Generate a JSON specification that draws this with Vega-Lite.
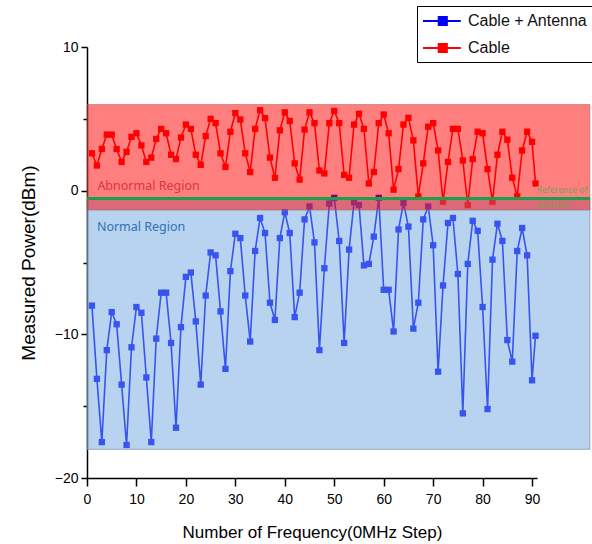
{
  "$schema": "https://vega.github.io/schema/vega-lite/v6.json",
  "width": 450,
  "height": 431,
  "autosize": {"type": "none"},
  "padding": {"left": 87, "top": 47, "right": 55, "bottom": 66},
  "background": "white",
  "config": {
    "view": {"stroke": null},
    "font": "Liberation Sans",
    "axis": {"grid": false, "domainColor": "#000", "domainWidth": 1.5, "tickColor": "#000", "tickWidth": 1.5, "labelColor": "#000", "labelFontSize": 14, "labelFont": "Liberation Sans", "titleFont": "Liberation Sans", "titleFontWeight": "normal", "titleColor": "#000"}
  },
  "datasets": {
    "series": [
      {"f":1,"power":-8.0,"series":"Cable + Antenna"},{"f":2,"power":-13.1,"series":"Cable + Antenna"},{"f":3,"power":-17.5,"series":"Cable + Antenna"},{"f":4,"power":-11.1,"series":"Cable + Antenna"},{"f":5,"power":-8.45,"series":"Cable + Antenna"},{"f":6,"power":-9.3,"series":"Cable + Antenna"},{"f":7,"power":-13.5,"series":"Cable + Antenna"},{"f":8,"power":-17.7,"series":"Cable + Antenna"},{"f":9,"power":-10.9,"series":"Cable + Antenna"},{"f":10,"power":-8.1,"series":"Cable + Antenna"},
      {"f":11,"power":-8.5,"series":"Cable + Antenna"},{"f":12,"power":-13.0,"series":"Cable + Antenna"},{"f":13,"power":-17.5,"series":"Cable + Antenna"},{"f":14,"power":-10.3,"series":"Cable + Antenna"},{"f":15,"power":-7.1,"series":"Cable + Antenna"},{"f":16,"power":-7.1,"series":"Cable + Antenna"},{"f":17,"power":-10.6,"series":"Cable + Antenna"},{"f":18,"power":-16.5,"series":"Cable + Antenna"},{"f":19,"power":-9.5,"series":"Cable + Antenna"},{"f":20,"power":-6.0,"series":"Cable + Antenna"},
      {"f":21,"power":-5.7,"series":"Cable + Antenna"},{"f":22,"power":-9.1,"series":"Cable + Antenna"},{"f":23,"power":-13.5,"series":"Cable + Antenna"},{"f":24,"power":-7.3,"series":"Cable + Antenna"},{"f":25,"power":-4.3,"series":"Cable + Antenna"},{"f":26,"power":-4.5,"series":"Cable + Antenna"},{"f":27,"power":-8.4,"series":"Cable + Antenna"},{"f":28,"power":-12.4,"series":"Cable + Antenna"},{"f":29,"power":-5.6,"series":"Cable + Antenna"},{"f":30,"power":-3.0,"series":"Cable + Antenna"},
      {"f":31,"power":-3.3,"series":"Cable + Antenna"},{"f":32,"power":-7.3,"series":"Cable + Antenna"},{"f":33,"power":-10.5,"series":"Cable + Antenna"},{"f":34,"power":-4.2,"series":"Cable + Antenna"},{"f":35,"power":-1.9,"series":"Cable + Antenna"},{"f":36,"power":-2.95,"series":"Cable + Antenna"},{"f":37,"power":-7.8,"series":"Cable + Antenna"},{"f":38,"power":-9.0,"series":"Cable + Antenna"},{"f":39,"power":-3.3,"series":"Cable + Antenna"},{"f":40,"power":-1.5,"series":"Cable + Antenna"},
      {"f":41,"power":-2.95,"series":"Cable + Antenna"},{"f":42,"power":-8.8,"series":"Cable + Antenna"},{"f":43,"power":-7.1,"series":"Cable + Antenna"},{"f":44,"power":-2.0,"series":"Cable + Antenna"},{"f":45,"power":-1.1,"series":"Cable + Antenna"},{"f":46,"power":-3.6,"series":"Cable + Antenna"},{"f":47,"power":-11.1,"series":"Cable + Antenna"},{"f":48,"power":-5.4,"series":"Cable + Antenna"},{"f":49,"power":-0.9,"series":"Cable + Antenna"},{"f":50,"power":-0.5,"series":"Cable + Antenna"},
      {"f":51,"power":-3.5,"series":"Cable + Antenna"},{"f":52,"power":-10.6,"series":"Cable + Antenna"},{"f":53,"power":-4.1,"series":"Cable + Antenna"},{"f":54,"power":-0.8,"series":"Cable + Antenna"},{"f":55,"power":-1.0,"series":"Cable + Antenna"},{"f":56,"power":-5.2,"series":"Cable + Antenna"},{"f":57,"power":-5.1,"series":"Cable + Antenna"},{"f":58,"power":-3.2,"series":"Cable + Antenna"},{"f":59,"power":-0.5,"series":"Cable + Antenna"},{"f":60,"power":-6.9,"series":"Cable + Antenna"},
      {"f":61,"power":-6.9,"series":"Cable + Antenna"},{"f":62,"power":-9.8,"series":"Cable + Antenna"},{"f":63,"power":-2.7,"series":"Cable + Antenna"},{"f":64,"power":-0.86,"series":"Cable + Antenna"},{"f":65,"power":-2.5,"series":"Cable + Antenna"},{"f":66,"power":-9.6,"series":"Cable + Antenna"},{"f":67,"power":-7.8,"series":"Cable + Antenna"},{"f":68,"power":-2.0,"series":"Cable + Antenna"},{"f":69,"power":-1.1,"series":"Cable + Antenna"},{"f":70,"power":-3.8,"series":"Cable + Antenna"},
      {"f":71,"power":-12.6,"series":"Cable + Antenna"},{"f":72,"power":-6.6,"series":"Cable + Antenna"},{"f":73,"power":-2.25,"series":"Cable + Antenna"},{"f":74,"power":-1.9,"series":"Cable + Antenna"},{"f":75,"power":-5.8,"series":"Cable + Antenna"},{"f":76,"power":-15.5,"series":"Cable + Antenna"},{"f":77,"power":-5.1,"series":"Cable + Antenna"},{"f":78,"power":-2.1,"series":"Cable + Antenna"},{"f":79,"power":-2.8,"series":"Cable + Antenna"},{"f":80,"power":-8.1,"series":"Cable + Antenna"},
      {"f":81,"power":-15.2,"series":"Cable + Antenna"},{"f":82,"power":-4.8,"series":"Cable + Antenna"},{"f":83,"power":-2.3,"series":"Cable + Antenna"},{"f":84,"power":-3.5,"series":"Cable + Antenna"},{"f":85,"power":-10.4,"series":"Cable + Antenna"},{"f":86,"power":-11.9,"series":"Cable + Antenna"},{"f":87,"power":-4.2,"series":"Cable + Antenna"},{"f":88,"power":-2.6,"series":"Cable + Antenna"},{"f":89,"power":-4.5,"series":"Cable + Antenna"},{"f":90,"power":-13.2,"series":"Cable + Antenna"},
      {"f":90.7,"power":-10.1,"series":"Cable + Antenna"},
      {"f":1,"power":2.6,"series":"Cable"},{"f":2,"power":1.75,"series":"Cable"},{"f":3,"power":2.9,"series":"Cable"},{"f":4,"power":3.9,"series":"Cable"},{"f":5,"power":3.9,"series":"Cable"},{"f":6,"power":2.9,"series":"Cable"},{"f":7,"power":2.0,"series":"Cable"},{"f":8,"power":2.7,"series":"Cable"},{"f":9,"power":3.75,"series":"Cable"},{"f":10,"power":4.0,"series":"Cable"},
      {"f":11,"power":3.15,"series":"Cable"},{"f":12,"power":2.0,"series":"Cable"},{"f":13,"power":2.3,"series":"Cable"},{"f":14,"power":3.6,"series":"Cable"},{"f":15,"power":4.3,"series":"Cable"},{"f":16,"power":4.0,"series":"Cable"},{"f":17,"power":2.5,"series":"Cable"},{"f":18,"power":2.2,"series":"Cable"},{"f":19,"power":3.7,"series":"Cable"},{"f":20,"power":4.6,"series":"Cable"},
      {"f":21,"power":4.3,"series":"Cable"},{"f":22,"power":2.5,"series":"Cable"},{"f":23,"power":1.8,"series":"Cable"},{"f":24,"power":3.8,"series":"Cable"},{"f":25,"power":5.0,"series":"Cable"},{"f":26,"power":4.7,"series":"Cable"},{"f":27,"power":2.6,"series":"Cable"},{"f":28,"power":1.65,"series":"Cable"},{"f":29,"power":4.1,"series":"Cable"},{"f":30,"power":5.4,"series":"Cable"},
      {"f":31,"power":4.95,"series":"Cable"},{"f":32,"power":2.6,"series":"Cable"},{"f":33,"power":1.3,"series":"Cable"},{"f":34,"power":4.3,"series":"Cable"},{"f":35,"power":5.6,"series":"Cable"},{"f":36,"power":5.05,"series":"Cable"},{"f":37,"power":2.3,"series":"Cable"},{"f":38,"power":0.9,"series":"Cable"},{"f":39,"power":4.2,"series":"Cable"},{"f":40,"power":5.45,"series":"Cable"},
      {"f":41,"power":4.85,"series":"Cable"},{"f":42,"power":1.9,"series":"Cable"},{"f":43,"power":0.77,"series":"Cable"},{"f":44,"power":4.25,"series":"Cable"},{"f":45,"power":5.45,"series":"Cable"},{"f":46,"power":4.7,"series":"Cable"},{"f":47,"power":1.4,"series":"Cable"},{"f":48,"power":1.2,"series":"Cable"},{"f":49,"power":4.7,"series":"Cable"},{"f":50,"power":5.55,"series":"Cable"},
      {"f":51,"power":4.7,"series":"Cable"},{"f":52,"power":1.1,"series":"Cable"},{"f":53,"power":0.9,"series":"Cable"},{"f":54,"power":4.6,"series":"Cable"},{"f":55,"power":5.35,"series":"Cable"},{"f":56,"power":4.3,"series":"Cable"},{"f":57,"power":0.5,"series":"Cable"},{"f":58,"power":1.3,"series":"Cable"},{"f":59,"power":4.7,"series":"Cable"},{"f":60,"power":5.3,"series":"Cable"},
      {"f":61,"power":4.0,"series":"Cable"},{"f":62,"power":0.07,"series":"Cable"},{"f":63,"power":1.5,"series":"Cable"},{"f":64,"power":4.6,"series":"Cable"},{"f":65,"power":5.07,"series":"Cable"},{"f":66,"power":3.5,"series":"Cable"},{"f":67,"power":-0.4,"series":"Cable"},{"f":68,"power":1.9,"series":"Cable"},{"f":69,"power":4.45,"series":"Cable"},{"f":70,"power":4.7,"series":"Cable"},
      {"f":71,"power":2.8,"series":"Cable"},{"f":72,"power":-0.77,"series":"Cable"},{"f":73,"power":2.0,"series":"Cable"},{"f":74,"power":4.3,"series":"Cable"},{"f":75,"power":4.3,"series":"Cable"},{"f":76,"power":2.1,"series":"Cable"},{"f":77,"power":-1.0,"series":"Cable"},{"f":78,"power":2.2,"series":"Cable"},{"f":79,"power":4.1,"series":"Cable"},{"f":80,"power":4.0,"series":"Cable"},
      {"f":81,"power":1.5,"series":"Cable"},{"f":82,"power":-0.77,"series":"Cable"},{"f":83,"power":2.5,"series":"Cable"},{"f":84,"power":4.1,"series":"Cable"},{"f":85,"power":3.55,"series":"Cable"},{"f":86,"power":0.9,"series":"Cable"},{"f":87,"power":-0.4,"series":"Cable"},{"f":88,"power":2.8,"series":"Cable"},{"f":89,"power":4.1,"series":"Cable"},{"f":90,"power":3.4,"series":"Cable"},
      {"f":90.7,"power":0.5,"series":"Cable"}
    ],
    "regions": [
      {"region": "Normal", "xlo": 0, "xhi": 101.7, "ylo": -18, "yhi": -0.5},
      {"region": "Abnormal", "xlo": 0, "xhi": 101.7, "ylo": -1.35, "yhi": 6}
    ],
    "reference": [{"xlo": 0, "xhi": 101.7, "yref": -0.54}],
    "labels": [
      {"kind": "abnormal", "label": "Abnormal Region", "x": 2.1, "y": 0.33},
      {"kind": "normal", "label": "Normal Region", "x": 2.0, "y": -2.56},
      {"kind": "ref", "label": "Reference of", "x": 91.0, "y": 0.03},
      {"kind": "ref", "label": "decision", "x": 91.0, "y": -1.0}
    ]
  },
  "layer": [
    {
      "data": {"name": "series"},
      "mark": {"type": "line", "strokeWidth": 1.6},
      "encoding": {
        "x": {"field": "f", "type": "quantitative", "title": "Number of Frequency(0MHz Step)",
              "scale": {"domain": [0, 91], "nice": false, "zero": false},
              "axis": {"values": [0, 5, 10, 15, 20, 25, 30, 35, 40, 45, 50, 55, 60, 65, 70, 75, 80, 85, 90],
                       "tickSize": {"condition": {"test": "datum.value % 10 === 0", "value": 8}, "value": 4},
                       "labelExpr": "datum.value % 10 === 0 ? datum.label : ''",
                       "labelPadding": 6, "titleFontSize": 17, "titlePadding": 18, "labelFlush": false, "labelOverlap": false}},
        "y": {"field": "power", "type": "quantitative", "title": "Measured Power(dBm)",
              "scale": {"domain": [-20, 10], "nice": false, "zero": false},
              "axis": {"values": [-20, -15, -10, -5, 0, 5, 10],
                       "tickSize": {"condition": {"test": "datum.value % 10 === 0", "value": 6}, "value": 4},
                       "labelExpr": "datum.value % 10 === 0 ? datum.label : ''",
                       "labelPadding": 3, "titleFontSize": 19, "titlePadding": 16, "labelFlush": false, "labelOverlap": false}},
        "color": {"field": "series", "type": "nominal",
                  "scale": {"domain": ["Cable + Antenna", "Cable"], "range": ["#0000ff", "#ff0000"]},
                  "legend": {"orient": "none", "legendX": 330, "legendY": -41, "title": null,
                             "symbolType": "M-1,0H3.2M0.75,-0.45H1.65V0.45H0.75Z", "symbolSize": 324, "symbolStrokeWidth": 2,
                             "labelFontSize": 16, "labelFont": "Liberation Sans", "labelColor": "#111", "labelOffset": 26,
                             "strokeColor": "#000", "fillColor": "white", "padding": 5, "rowPadding": 8,
                             "encode": {"symbols": {"update": {"fill": {"scale": "color", "field": "value"}, "stroke": {"scale": "color", "field": "value"}}}}}}
      }
    },
    {
      "data": {"name": "series"},
      "mark": {"type": "point", "shape": "square", "filled": true, "size": 40, "opacity": 1},
      "encoding": {
        "x": {"field": "f", "type": "quantitative", "title": "Number of Frequency(0MHz Step)"},
        "y": {"field": "power", "type": "quantitative", "title": "Measured Power(dBm)"},
        "color": {"field": "series", "type": "nominal"}
      }
    },
    {
      "data": {"name": "regions"},
      "transform": [{"filter": "datum.region === 'Normal'"}],
      "mark": {"type": "rect", "fill": "#70a8e0", "fillOpacity": 0.5, "stroke": "#8a96b0", "strokeWidth": 1, "strokeOpacity": 0.8},
      "encoding": {
        "x": {"field": "xlo", "type": "quantitative", "title": "Number of Frequency(0MHz Step)"},
        "x2": {"field": "xhi"},
        "y": {"field": "ylo", "type": "quantitative", "title": "Measured Power(dBm)"},
        "y2": {"field": "yhi"}
      }
    },
    {
      "data": {"name": "regions"},
      "transform": [{"filter": "datum.region === 'Abnormal'"}],
      "mark": {"type": "rect", "fill": "#ff0000", "fillOpacity": 0.5, "stroke": "#a07070", "strokeWidth": 1, "strokeOpacity": 0.6},
      "encoding": {
        "x": {"field": "xlo", "type": "quantitative", "title": "Number of Frequency(0MHz Step)"},
        "x2": {"field": "xhi"},
        "y": {"field": "ylo", "type": "quantitative", "title": "Measured Power(dBm)"},
        "y2": {"field": "yhi"}
      }
    },
    {
      "data": {"name": "reference"},
      "mark": {"type": "rule", "color": "#1aa04a", "strokeWidth": 3},
      "encoding": {
        "x": {"field": "xlo", "type": "quantitative", "title": "Number of Frequency(0MHz Step)"},
        "x2": {"field": "xhi"},
        "y": {"field": "yref", "type": "quantitative", "title": "Measured Power(dBm)"}
      }
    },
    {
      "data": {"name": "labels"},
      "transform": [{"filter": "datum.kind === 'abnormal'"}],
      "mark": {"type": "text", "align": "left", "baseline": "middle", "font": "Noto Sans", "fontSize": 12.5, "color": "#e03535"},
      "encoding": {
        "x": {"field": "x", "type": "quantitative", "title": "Number of Frequency(0MHz Step)"},
        "y": {"field": "y", "type": "quantitative", "title": "Measured Power(dBm)"},
        "text": {"field": "label"}
      }
    },
    {
      "data": {"name": "labels"},
      "transform": [{"filter": "datum.kind === 'normal'"}],
      "mark": {"type": "text", "align": "left", "baseline": "middle", "font": "Noto Sans", "fontSize": 12.5, "color": "#2f72b8"},
      "encoding": {
        "x": {"field": "x", "type": "quantitative", "title": "Number of Frequency(0MHz Step)"},
        "y": {"field": "y", "type": "quantitative", "title": "Measured Power(dBm)"},
        "text": {"field": "label"}
      }
    },
    {
      "data": {"name": "labels"},
      "transform": [{"filter": "datum.kind === 'ref'"}],
      "mark": {"type": "text", "align": "left", "baseline": "middle", "font": "Noto Sans", "fontSize": 8.5, "color": "#7d9e5a"},
      "encoding": {
        "x": {"field": "x", "type": "quantitative", "title": "Number of Frequency(0MHz Step)"},
        "y": {"field": "y", "type": "quantitative", "title": "Measured Power(dBm)"},
        "text": {"field": "label"}
      }
    }
  ]
}
